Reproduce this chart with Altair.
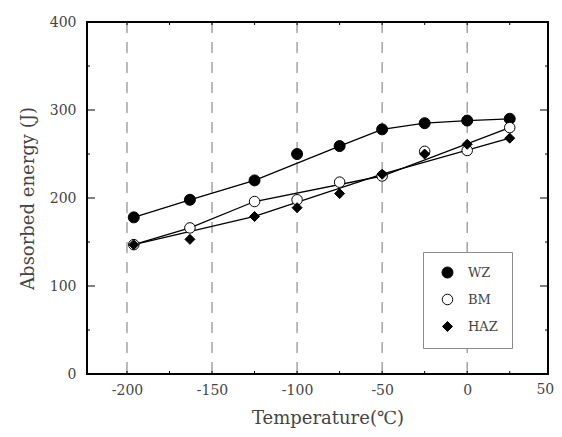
import altair as alt
import pandas as pd

# ---- data ----
temps = [-196, -163, -125, -100, -75, -50, -25, 0, 25]
wz = [178, 198, 220, 250, 259, 278, 285, 288, 290]
bm = [147, 166, 196, 198, 218, 225, 253, 254, 280]
haz = [147, 153, 179, 189, 205, 227, 250, 261, 268]
# which points the drawn (fitted) line passes through
wz_line = [1, 1, 1, 0, 1, 1, 1, 1, 1]
bm_line = [1, 1, 1, 0, 0, 1, 0, 0, 1]
haz_line = [1, 0, 1, 0, 0, 1, 0, 0, 1]

series = ["WZ", "BM", "HAZ"]
x_labels = [-200, -150, -100, -50, 0]
x_edge_label = [50]
grid_vals = [-200, -150, -100, -50, 0]
x_tick_vals = [-200, -175, -150, -125, -100, -75, -50, -25, 0, 25]
y_major = [0, 100, 200, 300, 400]
y_minor = [50, 150, 250, 350]

W, H = 461, 352
XDOM = [-223.5, 47.5]
YDOM = [0, 400]
FONT = "DejaVu Serif"
TXT = "#444444"
XTITLE = "Temperature(\u2103)"
YTITLE = "Absorbed energy (J)"

rows = []
for name, vals, on in [("WZ", wz, wz_line), ("BM", bm, bm_line), ("HAZ", haz, haz_line)]:
    for t, v, o in zip(temps, vals, on):
        rows.append({"series": name, "temp": t, "energy": v, "online": o})
df = pd.DataFrame(rows)
line_df = df[df["online"] == 1]

xs = alt.Scale(domain=XDOM, nice=False, zero=False)
ys = alt.Scale(domain=YDOM, nice=False, zero=False)

xaxis = alt.Axis(
    values=x_labels, grid=False, ticks=False, domain=False,
    labelFont=FONT, labelFontSize=14, labelColor=TXT, labelPadding=9,
    labelExpr="datum.value + ''",
    titleFont=FONT, titleFontSize=18, titleFontWeight="normal", titleColor=TXT,
    titlePadding=12, titleX=W / 2 + 10,
)
yaxis = alt.Axis(
    values=y_major, grid=False, ticks=False, domain=False,
    labelFont=FONT, labelFontSize=14, labelColor=TXT, labelPadding=11,
    titleFont=FONT, titleFontSize=18, titleFontWeight="normal", titleColor=TXT,
    titlePadding=12,
)


def X(f):
    return alt.X(f, scale=xs, axis=xaxis, title=XTITLE)


def Y(f):
    return alt.Y(f, scale=ys, axis=yaxis, title=YTITLE)


grid = alt.Chart(pd.DataFrame({"g": grid_vals})).mark_rule(
    color="#959595", strokeWidth=1.3, strokeDash=[11, 9]
).encode(x=X("g:Q"), y=alt.value(0), y2=alt.value(H))

# the "50" label sits at the right edge, just outside the scale domain
edge_lab = alt.Chart(pd.DataFrame({"e": x_edge_label})).mark_text(
    font=FONT, fontSize=14, color=TXT, align="right", baseline="top", clip=False, dx=2
).encode(x=X("e:Q"), y=alt.value(H + 9), text=alt.Text("e:N"))

xt = pd.DataFrame({"t": x_tick_vals})
xtick_top = alt.Chart(xt).mark_rule(color="black", strokeWidth=1).encode(
    x=X("t:Q"), y=alt.value(0), y2=alt.value(3))
xtick_bot = alt.Chart(xt).mark_rule(color="black", strokeWidth=1).encode(
    x=X("t:Q"), y=alt.value(H), y2=alt.value(H - 3))

ymj = pd.DataFrame({"v": y_major})
ymn = pd.DataFrame({"v": y_minor})
ytick_lm = alt.Chart(ymj).mark_rule(color="black", strokeWidth=1).encode(
    y=Y("v:Q"), x=alt.value(0), x2=alt.value(8))
ytick_rm = alt.Chart(ymj).mark_rule(color="black", strokeWidth=1).encode(
    y=Y("v:Q"), x=alt.value(W), x2=alt.value(W - 8))
ytick_ln = alt.Chart(ymn).mark_rule(color="black", strokeWidth=1).encode(
    y=Y("v:Q"), x=alt.value(0), x2=alt.value(3))
ytick_rn = alt.Chart(ymn).mark_rule(color="black", strokeWidth=1).encode(
    y=Y("v:Q"), x=alt.value(W), x2=alt.value(W - 3))

# plot frame
frame = alt.Chart(pd.DataFrame({"f": [0]})).mark_rect(
    fill="transparent", stroke="black", strokeWidth=2
).encode(x=alt.value(0), x2=alt.value(W), y=alt.value(0), y2=alt.value(H))

lines = alt.Chart(line_df).mark_line(color="black", strokeWidth=1.3).encode(
    x=X("temp:Q"), y=Y("energy:Q"), detail="series:N",
)

leg = alt.Legend(
    title=None, orient="none", legendX=336, legendY=230,
    padding=14, rowPadding=12, strokeColor="#8a8a8a", fillColor="white",
    labelFont=FONT, labelFontSize=13, labelColor=TXT,
    symbolOffset=4, labelOffset=14, symbolStrokeWidth=1,
)

points = alt.Chart(df).mark_point(filled=True, strokeWidth=1, opacity=1).encode(
    x=X("temp:Q"),
    y=Y("energy:Q"),
    shape=alt.Shape("series:N", scale=alt.Scale(domain=series, range=["circle", "circle", "diamond"]), legend=leg),
    fill=alt.Fill("series:N", scale=alt.Scale(domain=series, range=["black", "white", "black"]), legend=leg),
    stroke=alt.Stroke("series:N", scale=alt.Scale(domain=series, range=["black", "black", "black"]), legend=leg),
    size=alt.Size("series:N", scale=alt.Scale(domain=series, range=[121, 100, 70]), legend=leg),
)

chart = alt.layer(
    grid, xtick_top, xtick_bot, ytick_lm, ytick_rm, ytick_ln, ytick_rn, lines, points, edge_lab, frame
).properties(
    width=W, height=H,
    autosize=alt.AutoSizeParams(type="none"),
    padding={"left": 79, "top": 14, "right": 6, "bottom": 60},
    background="white",
).configure_view(strokeOpacity=0)

chart.save("out.html", embed_options={"renderer": "svg", "actions": False})
